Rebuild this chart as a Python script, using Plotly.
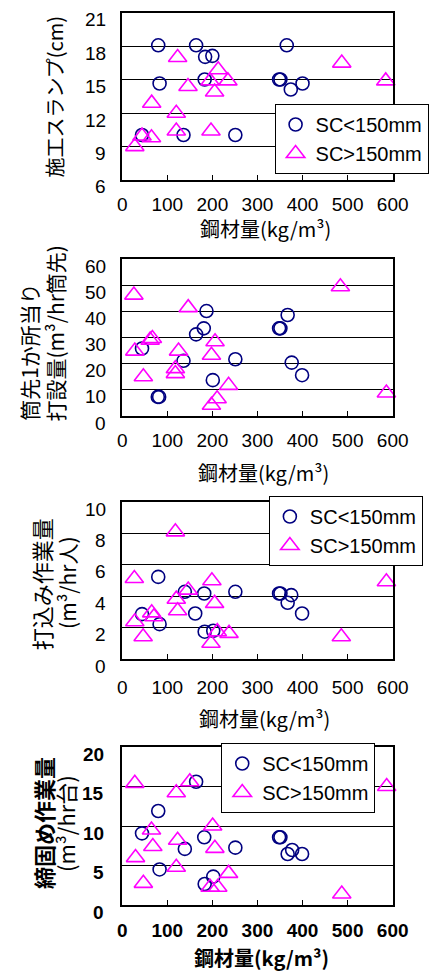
import plotly.graph_objects as go

W, H = 443, 973

# ---------------- data ----------------
# Panel 1: 施工スランプ(cm)
p1_circ_x = [44, 80, 83, 136, 164, 184, 183, 200, 251, 348, 351, 365, 374, 400]
p1_circ_y = [10.04, 18.1, 14.67, 10.04, 18.1, 17.06, 15.03, 17.15, 10.04, 15.03, 15.03, 18.1, 14.13, 14.67]
p1_tri_x = [28, 44, 65, 65.5, 120, 120, 123, 146, 195, 197, 205, 213, 234.5, 487, 584.5]
p1_tri_y = [9.0, 9.95, 9.8, 12.9, 12.0, 10.4, 17.0, 14.4, 14.9, 10.4, 13.9, 15.9, 14.9, 16.5, 14.9]

# Panel 2: 筒先1か所当り打設量(m3/hr筒先)
p2_circ_x = [44, 79, 82, 136, 164, 181, 187, 201, 251, 348, 351, 367, 376, 399]
p2_circ_y = [25.8, 7.3, 7.3, 21.1, 31.2, 33.5, 40.1, 13.7, 21.7, 33.5, 33.5, 38.6, 20.4, 15.6]
p2_tri_x = [26, 28, 47, 62, 67, 118, 118, 125, 146.5, 198, 198, 206, 210.6, 236, 484, 586]
p2_tri_y = [46.2, 24.8, 15.0, 29.0, 29.6, 18.1, 16.2, 24.8, 41.4, 23.2, 4.1, 28.4, 6.6, 11.7, 49.4, 8.8]

# Panel 3: 打込み作業量(m3/hr人)
p3_circ_x = [44, 80, 83, 139, 162, 182, 183, 202, 251, 348, 351, 367, 375, 399]
p3_circ_y = [2.86, 5.23, 2.22, 4.28, 2.9, 4.17, 1.74, 1.8, 4.28, 4.17, 4.17, 3.58, 4.07, 2.9]
p3_tri_x = [27, 28, 46.5, 65.5, 70.4, 118, 120, 123, 146.5, 197, 199, 205, 211, 237, 486, 586]
p3_tri_y = [5.13, 2.37, 1.42, 2.94, 2.69, 8.1, 3.81, 3.07, 4.39, 1.0, 4.98, 3.54, 1.74, 1.63, 1.42, 4.92]

# Panel 4: 締固め作業量(m3/hr台)
p4_circ_x = [44, 80, 83, 139, 164, 182, 183, 202, 251, 348, 351, 367, 377, 399]
p4_circ_y = [9.07, 11.9, 4.5, 7.1, 15.6, 8.57, 2.66, 3.59, 7.26, 8.57, 8.57, 6.46, 6.96, 6.46]
p4_tri_x = [28, 29.6, 47, 65, 68, 120, 120, 123, 150, 195, 200.7, 205.6, 212, 236, 487, 586.6]
p4_tri_y = [15.4, 6.0, 2.74, 9.5, 7.4, 14.2, 4.77, 8.2, 15.6, 2.24, 10.0, 7.17, 2.24, 4.0, 1.4, 15.0]

series_names = ["SC&lt;150mm", "SC&gt;150mm"]
x_title = "鋼材量(kg/m³)"
x_ticks = [0, 100, 200, 300, 400, 500, 600]
p1_yticks = [6, 9, 12, 15, 18, 21]
p2_yticks = [0, 10, 20, 30, 40, 50, 60]
p3_yticks = [0, 2, 4, 6, 8, 10]
p4_yticks = [0, 5, 10, 15, 20]
y_ticks = [p1_yticks, p2_yticks, p3_yticks, p4_yticks]

panels = [
    (p1_circ_x, p1_circ_y, p1_tri_x, p1_tri_y, "legend"),
    (p2_circ_x, p2_circ_y, p2_tri_x, p2_tri_y, None),
    (p3_circ_x, p3_circ_y, p3_tri_x, p3_tri_y, "legend2"),
    (p4_circ_x, p4_circ_y, p4_tri_x, p4_tri_y, "legend3"),
]

# ---------------- layout constants (pixels) ----------------
PX_L, PX_R = 123, 407
PANEL_PX = [(13, 180), (259, 416), (502, 659), (747, 905)]
XLAB_STANDOFF = [6, 6, 10, 7]
YLAB_RIGHT = [108, 108, 108, 106]
NUM_FONT = "Liberation Sans, Arial, sans-serif"
JP_FONT = "Noto Sans CJK JP, sans-serif"
NAVY = "#000080"
MAGENTA = "#FF00FF"


def fx(p):
    return p / W


def fy(p):
    return 1 - p / H


fig = go.Figure()

for i, (cx, cy, tx, ty, leg) in enumerate(panels):
    n = "" if i == 0 else str(i + 1)
    common = dict(xaxis="x" + n, yaxis="y" + n, mode="markers", cliponaxis=False)
    show = leg is not None
    extra = {"legend": leg} if leg else {}
    fig.add_trace(go.Scatter(
        x=cx, y=cy, name=series_names[0], showlegend=show,
        marker=dict(symbol="circle-open", size=13, color=NAVY, line=dict(width=1.6, color=NAVY)),
        **common, **extra))
    fig.add_trace(go.Scatter(
        x=tx, y=ty, name=series_names[1], showlegend=show,
        marker=dict(symbol="triangle-up-open", size=16, color=MAGENTA, line=dict(width=1.6, color=MAGENTA)),
        **common, **extra))

layout = dict(
    width=W, height=H,
    margin=dict(l=0, r=0, t=0, b=0),
    paper_bgcolor="white", plot_bgcolor="white",
    showlegend=True,
)

annotations = []
for i, (top, bot) in enumerate(PANEL_PX):
    n = "" if i == 0 else str(i + 1)
    bold = (i == 3)
    tf = dict(family=NUM_FONT, size=19, color="black", weight="bold" if bold else "normal")
    yt = y_ticks[i]
    layout["xaxis" + n] = dict(
        domain=[fx(PX_L), fx(PX_R)], anchor="y" + n, range=[0, 600],
        tickmode="array", tickvals=x_ticks, ticktext=[str(v) for v in x_ticks],
        ticks="inside", ticklen=5, tickwidth=1, tickcolor="black",
        showline=True, mirror=True, linewidth=2, linecolor="black",
        showgrid=False, zeroline=False, tickfont=tf, ticklabelstandoff=XLAB_STANDOFF[i],
    )
    layout["yaxis" + n] = dict(
        domain=[fy(bot), fy(top)], anchor="x" + n, range=[yt[0], yt[-1]],
        tickmode="array", tickvals=yt, showticklabels=False,
        ticks="", showline=True, mirror=True, linewidth=2, linecolor="black",
        showgrid=True, gridcolor="black", gridwidth=1, zeroline=False,
    )
    # y tick labels (drawn slightly below their gridlines, as in the original)
    for v in yt:
        annotations.append(dict(text=str(v), x=fx(YLAB_RIGHT[i]), y=v, xref="paper", yref="y" + n,
                                xanchor="right", yanchor="middle", yshift=-7, showarrow=False,
                                font=tf))

leg_common = dict(
    bgcolor="white", bordercolor="black", borderwidth=1,
    font=dict(family=NUM_FONT, size=20, color="black"),
    xanchor="left", yanchor="top", itemwidth=30, tracegroupgap=0,
)
layout["legend"] = dict(x=fx(283), y=fy(104), **leg_common)
layout["legend2"] = dict(x=fx(277), y=fy(496), **leg_common)
layout["legend3"] = dict(x=fx(227), y=fy(743), **leg_common)

# x-axis titles
xt_centers = [(273, 229), (271, 472), (272, 718), (269, 957)]
for i, (ax, ay) in enumerate(xt_centers):
    txt = x_title if i < 3 else "<b>" + x_title + "</b>"
    annotations.append(dict(text=txt, x=fx(ax), y=fy(ay), xref="paper", yref="paper",
                            xanchor="center", yanchor="middle", showarrow=False,
                            font=dict(family=JP_FONT, size=20, color="black")))

# y-axis titles (rotated)
y_titles = [
    ("施工スランプ(cm)", 52, 97, 20),
    ("筒先1か所当り", 25, 352, 21),
    ("打設量(m³/hr筒先)", 53, 333, 21),
    ("打込み作業量", 38, 584, 22),
    ("(m³/hr人)", 65, 583, 21),
    ("<b>締固め作業量</b>", 40, 823, 22),
    ("(m³/hr台)", 63, 824, 22),
]
for txt, ax, ay, fs in y_titles:
    annotations.append(dict(text=txt, x=fx(ax), y=fy(ay), xref="paper", yref="paper",
                            xanchor="center", yanchor="middle", showarrow=False, textangle=-90,
                            font=dict(family=JP_FONT, size=fs, color="black")))
layout["annotations"] = annotations

fig.update_layout(**layout)
fig.write_html("out.html")
